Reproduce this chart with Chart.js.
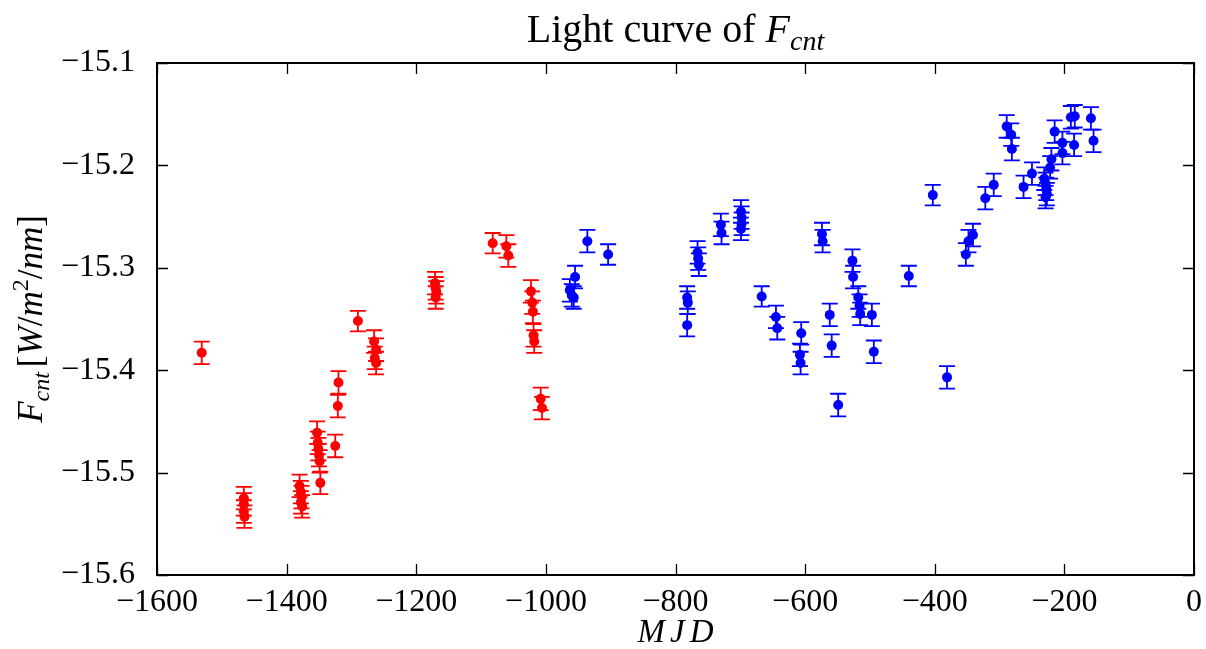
<!DOCTYPE html>
<html>
<head>
<meta charset="utf-8">
<script src="https://cdn.jsdelivr.net/npm/chart.js@4.4.1/dist/chart.umd.min.js"></script>
<style>
  html, body { margin: 0; padding: 0; background: #fff; }
  #contenedor { width: 1206px; height: 649px; position: relative; }
</style>
</head>
<body>
<div id="contenedor"><canvas id="grafica"></canvas></div>
<script>
// Datos: primera parte de la curva (rojo)
const mjdRojo = [-1531, -1466, -1466, -1466, -1465, -1380, -1378, -1377, -1378, -1376,
    -1353, -1352, -1351, -1350, -1349, -1348, -1325, -1320, -1321, -1290,
    -1265, -1262, -1264, -1262, -1171, -1170, -1169, -1170, -1082, -1061,
    -1058, -1023, -1021, -1020, -1019, -1018, -1008, -1006];
const flujoRojo = [-15.383, -15.525, -15.531, -15.538, -15.543, -15.513, -15.519, -15.524, -15.529, -15.533,
    -15.461, -15.471, -15.477, -15.483, -15.489, -15.510, -15.474, -15.412, -15.435, -15.352,
    -15.372, -15.380, -15.388, -15.393, -15.315, -15.320, -15.324, -15.329, -15.276, -15.279,
    -15.288, -15.323, -15.334, -15.343, -15.366, -15.372, -15.428, -15.437];
const errorRojo = [0.011, 0.011, 0.011, 0.011, 0.011, 0.011, 0.011, 0.011, 0.011, 0.011,
    0.011, 0.011, 0.011, 0.011, 0.011, 0.011, 0.011, 0.011, 0.011, 0.010,
    0.011, 0.011, 0.011, 0.011, 0.011, 0.011, 0.011, 0.011, 0.010, 0.011,
    0.011, 0.011, 0.011, 0.011, 0.011, 0.011, 0.011, 0.011];

// Datos: segunda parte de la curva (azul)
const mjdAzul = [-963, -960, -957, -955, -936, -904, -782, -781, -782, -766,
    -765, -764, -730, -729, -699, -698, -698, -699, -667, -645,
    -643, -606, -608, -607, -574, -573, -562, -559, -549, -527,
    -526, -518, -516, -515, -497, -494, -440, -403, -381, -352,
    -348, -341, -322, -309, -289, -282, -281, -263, -250, -231,
    -229, -228, -227, -229, -222, -220, -215, -203, -203, -190,
    -184, -185, -159, -155];
const flujoAzul = [-15.322, -15.327, -15.329, -15.309, -15.274, -15.287, -15.329, -15.334, -15.356, -15.285,
    -15.291, -15.297, -15.258, -15.266, -15.245, -15.251, -15.257, -15.262, -15.328, -15.348,
    -15.359, -15.364, -15.385, -15.393, -15.267, -15.274, -15.346, -15.376, -15.434, -15.293,
    -15.309, -15.329, -15.337, -15.345, -15.346, -15.382, -15.308, -15.229, -15.407, -15.287,
    -15.274, -15.268, -15.232, -15.219, -15.162, -15.170, -15.184, -15.221, -15.208, -15.213,
    -15.218, -15.223, -15.228, -15.231, -15.202, -15.194, -15.167, -15.178, -15.188, -15.153,
    -15.152, -15.180, -15.154, -15.176];
const errorAzul = [0.011, 0.011, 0.011, 0.011, 0.011, 0.010, 0.011, 0.011, 0.011, 0.011,
    0.011, 0.011, 0.011, 0.011, 0.011, 0.011, 0.011, 0.011, 0.010, 0.011,
    0.011, 0.011, 0.011, 0.011, 0.011, 0.011, 0.011, 0.011, 0.011, 0.011,
    0.011, 0.011, 0.011, 0.011, 0.011, 0.011, 0.010, 0.010, 0.011, 0.011,
    0.011, 0.011, 0.011, 0.011, 0.011, 0.011, 0.011, 0.011, 0.011, 0.011,
    0.011, 0.011, 0.011, 0.011, 0.011, 0.011, 0.011, 0.011, 0.011, 0.011,
    0.011, 0.011, 0.011, 0.011];

// Marcas de los ejes
const ticksX = [-1600, -1400, -1200, -1000, -800, -600, -400, -200, 0];
const ticksY = [-15.6, -15.5, -15.4, -15.3, -15.2, -15.1];

const FUENTE = '"Liberation Serif", "DejaVu Serif", serif';

// Convertir arrays en puntos {x, y}
const aPuntos = (xs, ys) => xs.map((x, i) => ({ x: x, y: ys[i] }));
const conMenos = (txt) => txt.replace('-', '\u2212');

// Texto con subíndices / superíndices
function textoRico(ctx, partes, x, y) {
    const fuente = p => (p.i ? 'italic ' : '') + p.s + 'px ' + FUENTE;
    let ancho = 0;
    partes.forEach(p => {
        ctx.font = fuente(p);
        p.w = ctx.measureText(p.t).width + (p.sp || 0);
        ancho += p.w;
    });
    let cx = x - ancho / 2;
    ctx.textAlign = 'left';
    ctx.textBaseline = 'alphabetic';
    partes.forEach(p => {
        ctx.font = fuente(p);
        ctx.fillText(p.t, cx, y + (p.dy || 0));
        cx += p.w;
    });
}

// Barras de error
const barrasError = {
    id: 'barrasError',
    beforeDatasetsDraw(chart) {
        const ctx = chart.ctx;
        const ejeX = chart.scales.x, ejeY = chart.scales.y;
        chart.data.datasets.forEach(ds => {
            ctx.save();
            ctx.strokeStyle = ds.backgroundColor;
            ctx.lineWidth = 1.8;
            ds.data.forEach((p, i) => {
                const px = ejeX.getPixelForValue(p.x);
                const y1 = ejeY.getPixelForValue(p.y - ds.errores[i]);
                const y2 = ejeY.getPixelForValue(p.y + ds.errores[i]);
                ctx.beginPath();
                ctx.moveTo(px, y1); ctx.lineTo(px, y2);
                ctx.moveTo(px - 8, y1); ctx.lineTo(px + 8, y1);
                ctx.moveTo(px - 8, y2); ctx.lineTo(px + 8, y2);
                ctx.stroke();
            });
            ctx.restore();
        });
    }
};

// Marco y marcas hacia adentro (estilo matplotlib)
const marco = {
    id: 'marco',
    afterDatasetsDraw(chart) {
        const ctx = chart.ctx;
        const a = chart.chartArea;
        const ejeX = chart.scales.x, ejeY = chart.scales.y;
        const largo = 11;
        ctx.save();
        ctx.strokeStyle = '#000';
        ctx.lineWidth = 1.3;
        ctx.beginPath();
        ticksX.forEach(v => {
            const px = Math.round(ejeX.getPixelForValue(v)) + 0.5;
            ctx.moveTo(px, a.bottom); ctx.lineTo(px, a.bottom - largo);
            ctx.moveTo(px, a.top); ctx.lineTo(px, a.top + largo);
        });
        ticksY.forEach(v => {
            const py = Math.round(ejeY.getPixelForValue(v)) + 0.5;
            ctx.moveTo(a.left, py); ctx.lineTo(a.left + largo, py);
            ctx.moveTo(a.right, py); ctx.lineTo(a.right - largo, py);
        });
        ctx.stroke();
        ctx.lineWidth = 2;
        ctx.strokeRect(a.left, a.top, a.right - a.left, a.bottom - a.top);
        ctx.restore();
    }
};

// Título y etiquetas de ejes
const textos = {
    id: 'textos',
    afterDraw(chart) {
        const ctx = chart.ctx;
        const a = chart.chartArea;
        const centroX = (a.left + a.right) / 2;
        ctx.save();
        ctx.fillStyle = '#000';
        textoRico(ctx, [
            { t: 'Light curve of ', s: 40 },
            { t: 'F', s: 40, i: true },
            { t: 'cnt', s: 28, i: true, dy: 8 }
        ], centroX, 42);

        textoRico(ctx, [
            { t: 'M', s: 33, i: true, sp: 5 },
            { t: 'J', s: 33, i: true, sp: 5 },
            { t: 'D', s: 33, i: true }
        ], centroX, 642);

        ctx.translate(42, (a.top + a.bottom) / 2);
        ctx.rotate(-Math.PI / 2);
        textoRico(ctx, [
            { t: 'F', s: 35, i: true },
            { t: 'cnt', s: 24, i: true, dy: 7, sp: 5 },
            { t: '[', s: 35 },
            { t: 'W', s: 35, i: true },
            { t: '/', s: 35 },
            { t: 'm', s: 35, i: true },
            { t: '2', s: 24, dy: -14 },
            { t: '/', s: 35 },
            { t: 'nm', s: 35, i: true },
            { t: ']', s: 35 }
        ], 0, 0);
        ctx.restore();
    }
};

const $grafica = document.getElementById('grafica').getContext('2d');

let miGrafica = new Chart($grafica, {
    type: 'scatter',
    data: {
        datasets: [
            {
                data: aPuntos(mjdRojo, flujoRojo),
                errores: errorRojo,
                backgroundColor: '#ff0000',
                borderColor: '#ff0000',
                pointRadius: 5,
                borderWidth: 0
            },
            {
                data: aPuntos(mjdAzul, flujoAzul),
                errores: errorAzul,
                backgroundColor: '#0000ff',
                borderColor: '#0000ff',
                pointRadius: 5,
                borderWidth: 0
            }
        ]
    },
    options: {
        responsive: true,
        maintainAspectRatio: false,
        animation: false,
        devicePixelRatio: 1,
        layout: { padding: { top: 63, right: 12, left: 0, bottom: 0 } },
        plugins: {
            legend: { display: false },
            tooltip: { enabled: false },
            title: { display: false }
        },
        scales: {
            x: {
                type: 'linear',
                min: -1600,
                max: 0,
                grid: { display: false },
                border: { display: false },
                afterBuildTicks: eje => { eje.ticks = ticksX.map(v => ({ value: v })); },
                afterFit: eje => { eje.height = 74; },
                ticks: {
                    padding: 0,
                    maxRotation: 0,
                    color: '#000',
                    font: { family: FUENTE, size: 32 },
                    callback: v => conMenos(String(v))
                }
            },
            y: {
                type: 'linear',
                min: -15.6,
                max: -15.1,
                grid: { display: false },
                border: { display: false },
                afterBuildTicks: eje => { eje.ticks = ticksY.map(v => ({ value: v })); },
                afterFit: eje => { eje.width = 157; },
                ticks: {
                    padding: 14,
                    color: '#000',
                    font: { family: FUENTE, size: 32 },
                    callback: v => conMenos(v.toFixed(1))
                }
            }
        }
    },
    plugins: [barrasError, marco, textos]
});
</script>
</body>
</html>
